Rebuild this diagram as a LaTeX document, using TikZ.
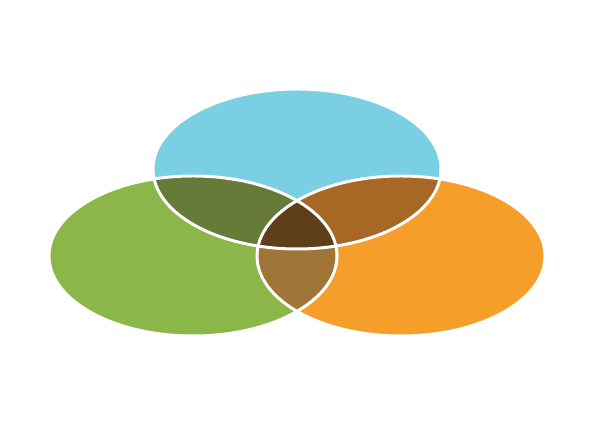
\documentclass[tikz,border=0pt]{standalone}
\definecolor{setblue}{HTML}{7ACFE3}
\definecolor{setgreen}{HTML}{8BB64A}
\definecolor{setorange}{HTML}{F59E2A}
\definecolor{bluegreen}{HTML}{657B37}
\definecolor{blueorange}{HTML}{A66824}
\definecolor{greenorange}{HTML}{A07538}
\definecolor{allthree}{HTML}{5E3F1A}
\tikzset{
	setshape/.style={x radius=144, y radius=80},
	outline/.style={draw=white, line width=1.7pt}
}

\begin{document}
\begin{tikzpicture}[x=0.02cm, y=-0.02cm]
			\useasboundingbox (0,0) rectangle (600,425);
			\coordinate (cblue) at (297,169);
			\coordinate (cgreen) at (193,256);
			\coordinate (corange) at (401,256);
			% the three sets
			\fill[setgreen] (cgreen) ellipse [setshape];
			\fill[setorange] (corange) ellipse [setshape];
			\fill[setblue] (cblue) ellipse [setshape];
			% pairwise overlaps
			\begin{scope}
				\clip (cblue) ellipse [setshape];
				\fill[bluegreen] (cgreen) ellipse [setshape];
				\fill[blueorange] (corange) ellipse [setshape];
			\end{scope}
			\begin{scope}
				\clip (cgreen) ellipse [setshape];
				\fill[greenorange] (corange) ellipse [setshape];
				\clip (cblue) ellipse [setshape];
				\fill[allthree] (corange) ellipse [setshape];
			\end{scope}
			% white borders
			\foreach \c in {cblue, cgreen, corange}
				\draw[outline] (\c) ellipse [setshape];
			\end{tikzpicture}
\end{document}
